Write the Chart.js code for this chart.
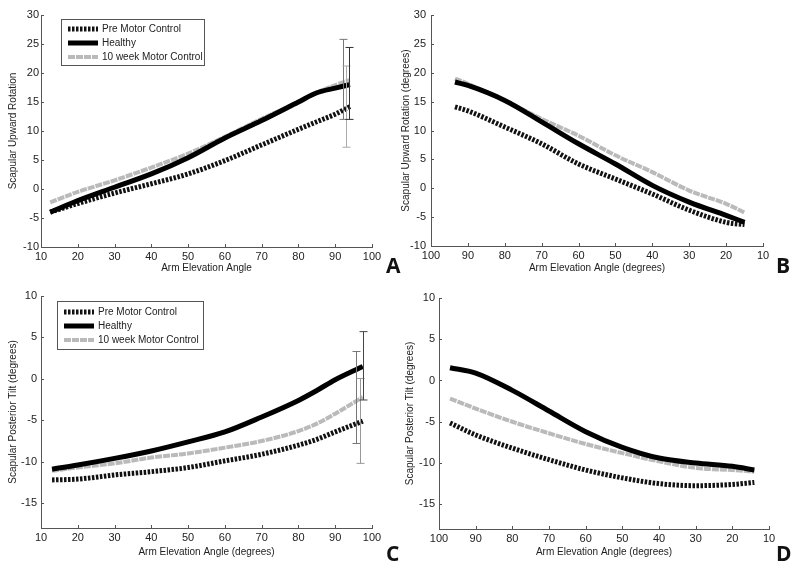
<!DOCTYPE html>
<html>
<head>
<meta charset="utf-8">
<script src="https://cdn.jsdelivr.net/npm/chart.js@4.4.0/dist/chart.umd.min.js"></script>
<style>
body { margin: 0; background: #fff; width: 800px; height: 568px; position: relative; overflow: hidden; }
.panel { position: absolute; width: 400px; height: 284px; }
.tag { position: absolute; font: bold 21px "Open Sans", "Liberation Sans", sans-serif; color: #111; line-height: 1; }
</style>
</head>
<body>
<div class="panel" style="left:0;top:0"><canvas id="chartA"></canvas></div>
<div class="panel" style="left:400px;top:0"><canvas id="chartB"></canvas></div>
<div class="panel" style="left:0;top:284px"><canvas id="chartC"></canvas></div>
<div class="panel" style="left:400px;top:284px"><canvas id="chartD"></canvas></div>
<div class="tag" style="left:386px;top:255px">A</div>
<div class="tag" style="left:776px;top:255px">B</div>
<div class="tag" style="left:386px;top:543px">C</div>
<div class="tag" style="left:776px;top:543px">D</div>
<script>
const seriesLabels = ['Pre Motor Control', 'Healthy', '10 week Motor Control'];

// panel A - upward rotation, raising
const angleA = [12.5, 20, 30, 40, 50, 60, 70, 80, 85, 90, 94];
const preA = [-4, -2.5, -0.7, 0.9, 2.6, 4.9, 7.6, 10.3, 11.6, 12.9, 14.2];
const healthyA = [-4, -2, 0.3, 2.6, 5.4, 8.8, 11.8, 15, 16.6, 17.4, 18];
const weekA = [-2.3, -0.5, 1.5, 3.7, 6.1, 9.0, 12.1, 15.0, 16.6, 17.9, 18.8];
const errAngleA = [92.1, 93, 93.7];
const errLowA = [12, 7.2, 12];
const errHighA = [25.8, 21.2, 24.4];

// panel B - upward rotation, lowering
const angleB = [93.5, 90, 80, 70, 60, 50, 40, 30, 20, 15];
const preB = [14.1, 13.4, 10.6, 7.7, 4.2, 1.6, -1.0, -3.8, -5.9, -6.3];
const healthyB = [18.4, 17.8, 15.2, 11.5, 7.7, 4.2, 0.5, -2.4, -4.7, -5.9];
const weekB = [19.0, 18.1, 15.2, 12.0, 9.1, 5.7, 2.8, -0.4, -2.7, -4.2];

// panel C - posterior tilt, raising
const angleC = [13, 20, 30, 40, 50, 60, 70, 80, 85, 90, 97.5];
const preC = [-12.2, -12.1, -11.6, -11.2, -10.7, -9.9, -9.1, -8.0, -7.3, -6.4, -5.1];
const healthyC = [-10.9, -10.4, -9.6, -8.7, -7.6, -6.4, -4.6, -2.6, -1.4, -0.1, 1.5];
const weekC = [-11.1, -10.7, -10.2, -9.5, -9.0, -8.3, -7.5, -6.3, -5.4, -4.2, -2.2];
const errAngleC = [95.6, 96.7, 97.6];
const errLowC = [-7.8, -10.2, -2.55];
const errHighC = [3.3, 0.05, 5.7];

// panel D - posterior tilt, lowering
const angleD = [97, 90, 80, 70, 60, 50, 40, 30, 20, 14];
const preD = [-5.15, -6.6, -8.2, -9.6, -10.85, -11.8, -12.5, -12.75, -12.6, -12.35];
const healthyD = [1.55, 0.9, -1.2, -3.7, -6.2, -8.1, -9.4, -10.0, -10.4, -10.85];
const weekD = [-2.2, -3.4, -5.0, -6.4, -7.7, -8.8, -9.8, -10.6, -10.85, -11.05];

const textColor = '#222';
const axisColor = '#555';
const fontFamily = '"Liberation Sans", Arial, sans-serif';

function pts(xs, ys) {
    return xs.map((x, i) => ({ x: x, y: ys[i] }));
}

// ticks pointing into the plot, matlab style
const inwardTicks = {
    id: 'inwardTicks',
    afterDatasetsDraw(chart) {
        const ctx = chart.ctx;
        const xs = chart.scales.x, ys = chart.scales.y;
        ctx.save();
        ctx.strokeStyle = axisColor;
        ctx.lineWidth = 1;
        ctx.beginPath();
        xs.ticks.forEach(t => {
            const px = Math.round(xs.getPixelForValue(t.value)) + 0.5;
            ctx.moveTo(px, ys.bottom);
            ctx.lineTo(px, ys.bottom - 3);
        });
        ys.ticks.forEach(t => {
            const py = Math.round(ys.getPixelForValue(t.value)) + 0.5;
            ctx.moveTo(xs.left, py);
            ctx.lineTo(xs.left + 3, py);
        });
        ctx.stroke();
        ctx.restore();
    }
};

const errorBars = {
    id: 'errorBars',
    afterDatasetsDraw(chart, args, opts) {
        if (!opts.angles) return;
        const ctx = chart.ctx;
        const xs = chart.scales.x, ys = chart.scales.y;
        ctx.save();
        ctx.lineWidth = 1;
        opts.angles.forEach((a, i) => {
            const px = Math.round(xs.getPixelForValue(a)) + 0.5;
            const top = ys.getPixelForValue(opts.high[i]);
            const bot = ys.getPixelForValue(opts.low[i]);
            ctx.strokeStyle = opts.colors[i];
            ctx.beginPath();
            ctx.moveTo(px, top); ctx.lineTo(px, bot);
            ctx.moveTo(px - 4, top); ctx.lineTo(px + 4, top);
            ctx.moveTo(px - 4, bot); ctx.lineTo(px + 4, bot);
            ctx.stroke();
        });
        ctx.restore();
    }
};

const boxLegend = {
    id: 'boxLegend',
    afterDraw(chart, args, opts) {
        if (!opts.show) return;
        const ctx = chart.ctx;
        const area = chart.chartArea;
        const x0 = area.left + opts.dx, y0 = area.top + opts.dy;
        ctx.save();
        ctx.fillStyle = '#fff';
        ctx.fillRect(x0, y0, opts.w, opts.h);
        ctx.strokeStyle = axisColor;
        ctx.lineWidth = 1;
        ctx.strokeRect(Math.round(x0) + 0.5, Math.round(y0) + 0.5, opts.w, opts.h);
        ctx.font = '10px ' + fontFamily;
        ctx.textBaseline = 'middle';
        chart.data.datasets.forEach((ds, i) => {
            const ry = y0 + opts.first + i * opts.gap;
            ctx.strokeStyle = ds.borderColor;
            ctx.lineWidth = ds.borderWidth;
            ctx.setLineDash(ds.borderDash || []);
            ctx.beginPath();
            ctx.moveTo(x0 + 7, ry);
            ctx.lineTo(x0 + 37, ry);
            ctx.stroke();
            ctx.setLineDash([]);
            ctx.fillStyle = textColor;
            ctx.fillText(ds.label, x0 + 41, ry);
        });
        ctx.restore();
    }
};

function makeChart(id, angles, pre, healthy, week, cfg) {
    const fitWidth = cfg.yWidth, fitHeight = cfg.xHeight;
    return new Chart(document.getElementById(id), {
        type: 'line',
        data: {
            datasets: [
                { label: seriesLabels[0], data: pts(angles, pre), borderColor: '#111', borderWidth: 5, borderDash: [2.5, 1.5], order: 1 },
                { label: seriesLabels[1], data: pts(angles, healthy), borderColor: '#000', borderWidth: 5, order: 0 },
                { label: seriesLabels[2], data: pts(angles, week), borderColor: '#bababa', borderWidth: 4, borderDash: [7, 1], order: 2 }
            ]
        },
        options: {
            responsive: true,
            maintainAspectRatio: false,
            animation: false,
            elements: {
                point: { radius: 0 },
                line: { tension: 0.4, cubicInterpolationMode: 'monotone', borderCapStyle: 'butt', fill: false }
            },
            layout: { padding: { top: cfg.top, right: cfg.right, left: 0, bottom: 0 } },
            plugins: {
                legend: { display: false },
                tooltip: { enabled: false },
                errorBars: cfg.err || {},
                boxLegend: cfg.legend || { show: false }
            },
            scales: {
                x: {
                    type: 'linear',
                    min: 10, max: 100,
                    reverse: cfg.reverse,
                    afterFit: s => { s.height = fitHeight; },
                    border: { color: axisColor, width: 1 },
                    grid: { display: false, drawTicks: false },
                    ticks: { stepSize: 10, color: textColor, padding: 3, maxRotation: 0, font: { family: fontFamily, size: 11 } },
                    title: { display: true, text: cfg.xTitle, color: textColor, padding: { top: 0, bottom: 10 }, font: { family: fontFamily, size: 10 } }
                },
                y: {
                    type: 'linear',
                    min: cfg.yMin, max: cfg.yMax,
                    afterFit: s => { s.width = fitWidth; },
                    afterBuildTicks: s => { s.ticks = s.ticks.filter(t => t.value % 5 === 0); },
                    border: { color: axisColor, width: 1 },
                    grid: { display: false, drawTicks: false },
                    ticks: { stepSize: 5, color: textColor, padding: cfg.yPad, font: { family: fontFamily, size: 11 } },
                    title: { display: true, text: cfg.yTitle, color: textColor, padding: { top: cfg.yTitlePad, bottom: 0 }, font: { family: fontFamily, size: 10 } }
                }
            }
        },
        plugins: [inwardTicks, errorBars, boxLegend]
    });
}

makeChart('chartA', angleA, preA, healthyA, weekA, {
    top: 15, right: 28, yWidth: 41, xHeight: 37, yMin: -10, yMax: 30, reverse: false, yPad: 2, yTitlePad: 7,
    xTitle: 'Arm Elevation Angle', yTitle: 'Scapular Upward Rotation',
    err: { angles: errAngleA, low: errLowA, high: errHighA, colors: ['#777', '#aaa', '#333'] },
    legend: { show: true, dx: 20, dy: 4, w: 143, h: 46, first: 10, gap: 14 }
});
makeChart('chartB', angleB, preB, healthyB, weekB, {
    top: 15, right: 37, yWidth: 31, xHeight: 38, yMin: -10, yMax: 30, reverse: true, yPad: 5, yTitlePad: 0,
    xTitle: 'Arm Elevation Angle (degrees)', yTitle: 'Scapular Upward Rotation (degrees)'
});
makeChart('chartC', angleC, preC, healthyC, weekC, {
    top: 12, right: 28, yWidth: 41, xHeight: 40, yMin: -18, yMax: 10, reverse: false, yPad: 4, yTitlePad: 7,
    xTitle: 'Arm Elevation Angle (degrees)', yTitle: 'Scapular Posterior Tilt (degrees)',
    err: { angles: errAngleC, low: errLowC, high: errHighC, colors: ['#777', '#999', '#444'] },
    legend: { show: true, dx: 16, dy: 5, w: 146, h: 48, first: 11, gap: 14 }
});
makeChart('chartD', angleD, preD, healthyD, weekD, {
    top: 14, right: 31, yWidth: 39, xHeight: 39, yMin: -18, yMax: 10, reverse: true, yPad: 4, yTitlePad: 4,
    xTitle: 'Arm Elevation Angle (degrees)', yTitle: 'Scapular Posterior Tilt (degrees)'
});
</script>
</body>
</html>
